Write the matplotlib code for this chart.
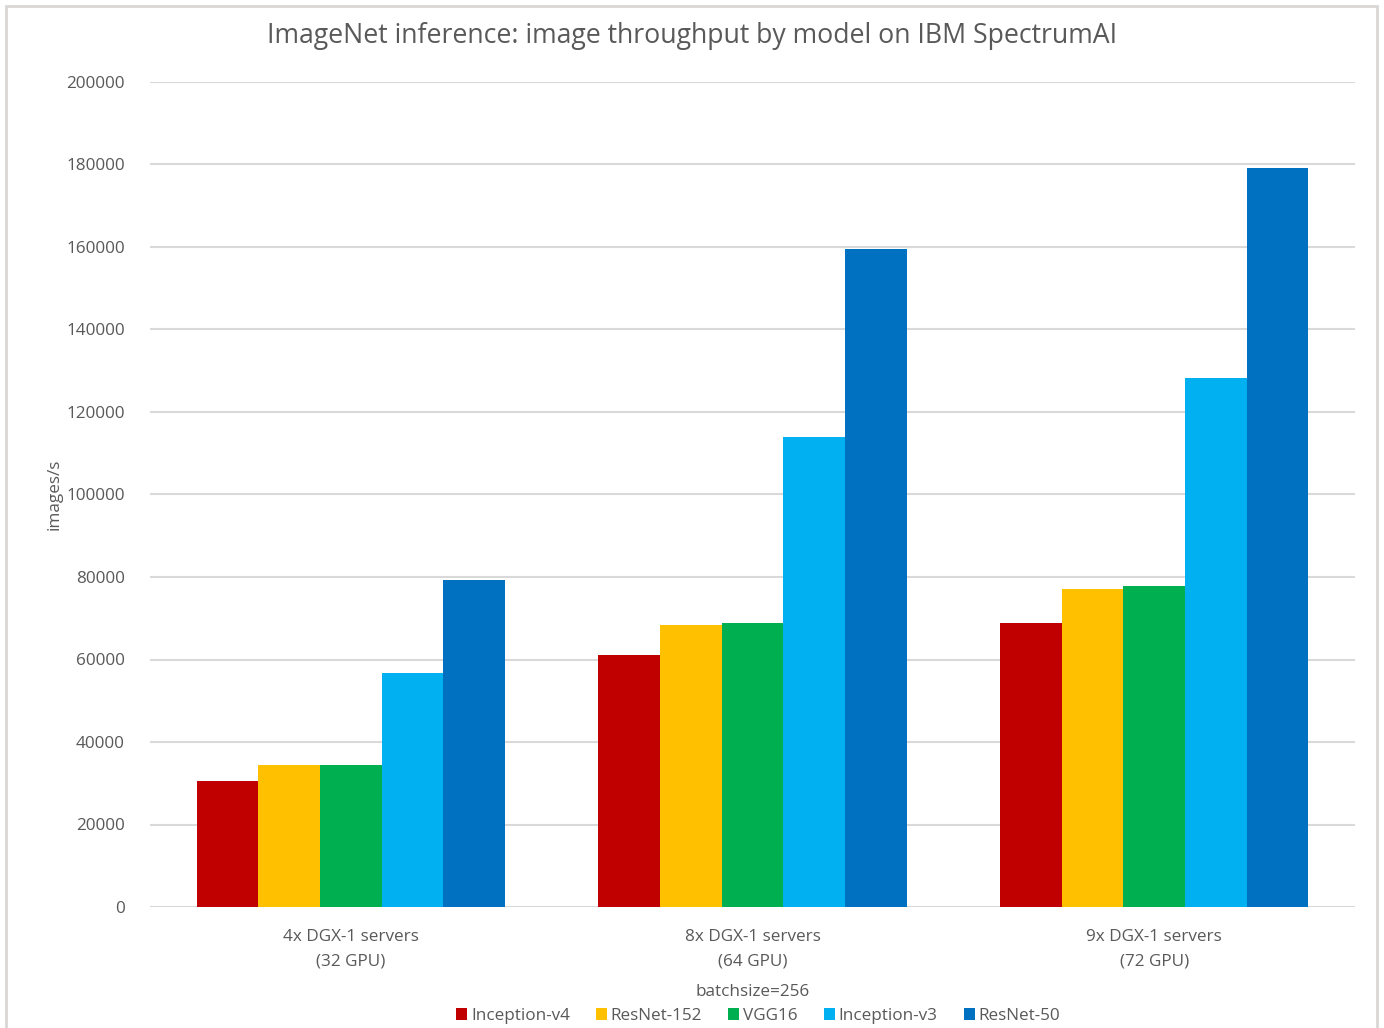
import numpy as np
import matplotlib
matplotlib.use('Agg')
import matplotlib.pyplot as plt
from matplotlib.patches import Rectangle

plt.rcParams['font.family'] = ['Open Sans', 'DejaVu Sans']

# data
categories = ['4x DGX-1 servers\n(32 GPU)', '8x DGX-1 servers\n(64 GPU)', '9x DGX-1 servers\n(72 GPU)']
models = ['Inception-v4', 'ResNet-152', 'VGG16', 'Inception-v3', 'ResNet-50']
inception_v4 = [30500, 61100, 68800]
resnet_152 = [34400, 68300, 77100]
vgg16 = [34400, 68900, 77700]
inception_v3 = [56800, 113900, 128200]
resnet_50 = [79300, 159500, 179200]
colors = ['#c00000', '#ffc000', '#00b050', '#00b0f0', '#0070c0']

series = [inception_v4, resnet_152, vgg16, inception_v3, resnet_50]
txt = '#595959'
fs = 12.3

fig = plt.figure(figsize=(13.84, 10.28), dpi=100)
# light frame round the chart area
fig.patches.append(Rectangle((6 / 1384, -0.01), 1371 / 1384, 1.0 - 6 / 1028 + 0.01,
                             transform=fig.transFigure, fill=False,
                             edgecolor='#d9d6d6', linewidth=2))
ax = fig.add_axes([150 / 1384, 1 - 907 / 1028, 1205 / 1384, 825 / 1028])

x = np.arange(len(categories))
w = 1 / 6.52
for i, (vals, name, c) in enumerate(zip(series, models, colors)):
    ax.bar(x + (i - 2) * w, vals, w, color=c, label=name, zorder=3)

ax.set_xlim(-0.5, 2.5)
ax.set_ylim(0, 200000)
ax.set_yticks(np.arange(0, 200001, 20000))
ax.yaxis.grid(True, color='#d9d9d9', linewidth=1.5, zorder=0)
for s in ax.spines.values():
    s.set_visible(False)
ax.tick_params(axis='both', length=0, colors=txt, labelsize=fs)
ax.tick_params(axis='y', pad=18)
ax.tick_params(axis='x', pad=16)
ax.set_xticks(x)
ax.set_xticklabels(categories, linespacing=1.65)

ax.set_ylabel('images/s', color=txt, fontsize=fs, labelpad=3)
ax.set_xlabel('batchsize=256', color=txt, fontsize=fs, labelpad=11)

fig.text(692 / 1384, 1 - 36 / 1028, 'ImageNet inference: image throughput by model on IBM SpectrumAI',
         ha='center', va='center', fontsize=19.2, color=txt)

leg = fig.legend(loc='center', bbox_to_anchor=(758 / 1384, 1 - 1016 / 1028), ncol=5,
                 frameon=False, fontsize=fs, handlelength=0.65, handleheight=0.65,
                 handletextpad=0.25, columnspacing=1.5, borderaxespad=0)
for t in leg.get_texts():
    t.set_color(txt)

fig.savefig('out.png', dpi=100, facecolor='white')
